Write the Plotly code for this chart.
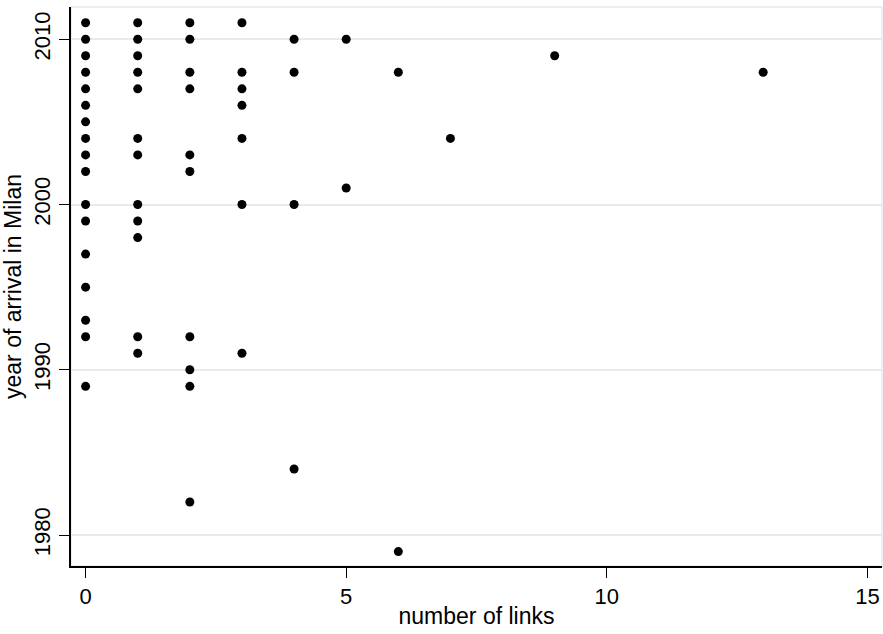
import plotly.graph_objects as go

# number of links per year of arrival
years = (
    [2011] * 4 + [2010] * 5 + [2009] * 3 + [2008] * 7 + [2007] * 4 + [2006] * 2 + [2005]
    + [2004] * 4 + [2003] * 3 + [2002] * 2 + [2001] + [2000] * 4 + [1999] * 2 + [1998]
    + [1997] + [1995] + [1993] + [1992] * 3 + [1991] * 2 + [1990] + [1989] * 2
    + [1984] + [1982] + [1979]
)
links = (
    [0, 1, 2, 3] + [0, 1, 2, 4, 5] + [0, 1, 9] + [0, 1, 2, 3, 4, 6, 13] + [0, 1, 2, 3]
    + [0, 3] + [0] + [0, 1, 3, 7] + [0, 1, 2] + [0, 2] + [5] + [0, 1, 3, 4] + [0, 1]
    + [1] + [0] + [0] + [0] + [0, 1, 2] + [1, 3] + [2] + [0, 2] + [4] + [2] + [6]
)

x_ticks = [0, 5, 10, 15]
y_ticks = [1980, 1990, 2000, 2010]

FAM = "Liberation Sans, Arial, Helvetica, sans-serif"
tick_font = dict(family=FAM, size=22, color="black")
title_font = dict(family=FAM, size=23, color="black")

fig = go.Figure()
fig.add_trace(go.Scatter(
    x=links, y=years, mode="markers",
    marker=dict(size=9, color="black", line=dict(width=0)),
    showlegend=False, hoverinfo="x+y",
))

# light plot-region border (top/right)
fig.add_shape(type="rect", xref="paper", yref="paper", x0=0, y0=0, x1=1, y1=1,
              line=dict(color="#e4ecef", width=1.5), layer="below")

fig.update_layout(
    width=883, height=634,
    margin=dict(l=71, r=1, t=7, b=68),
    paper_bgcolor="white", plot_bgcolor="white",
    font=tick_font,
)
fig.update_xaxes(
    range=[-0.28, 15.28], tickvals=x_ticks, ticktext=[str(v) for v in x_ticks],
    ticks="outside", ticklen=10, tickwidth=1.2, tickcolor="black",
    showline=True, linecolor="black", linewidth=1.5,
    showgrid=False, zeroline=False,
    title=dict(text="number of links", font=title_font, standoff=0),
    tickfont=tick_font,
)
fig.update_yaxes(
    range=[1978.13, 2011.95], tickvals=y_ticks, ticktext=[str(v) for v in y_ticks],
    ticks="outside", ticklen=10, tickwidth=1.2, tickcolor="black",
    showline=True, linecolor="black", linewidth=1.5,
    showgrid=True, gridcolor="#e4ecef", gridwidth=1.5, zeroline=False,
    tickangle=-90,
    title=dict(text="year of arrival in Milan", font=title_font, standoff=6),
    tickfont=tick_font,
)

fig.write_html("out.html", config={"displayModeBar": False},
               post_script="document.body.style.margin='0';")
